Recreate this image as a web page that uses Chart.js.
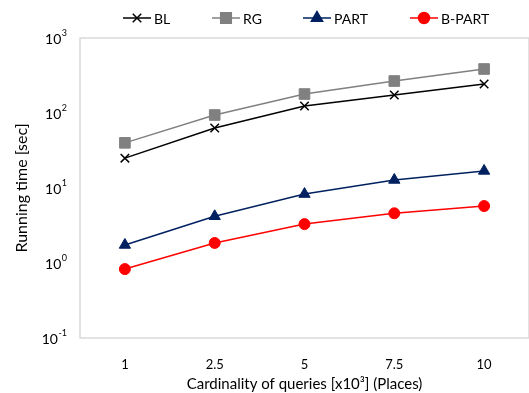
<!DOCTYPE html>
<html><head><meta charset="utf-8">
<script src="https://cdn.jsdelivr.net/npm/chart.js@4/dist/chart.umd.min.js"></script>
<style>html,body{margin:0;padding:0;background:#fff}#wrap{width:529px;height:393px}</style>
</head><body><div id="wrap"><canvas id="c" width="529" height="393"></canvas></div>
<script>
const categories = ['1', '2.5', '5', '7.5', '10'];
const seriesNames = ['BL', 'RG', 'PART', 'B-PART'];
const BL = [25, 63, 124, 174, 244];
const RG = [40, 94, 179, 267, 386];
const PART = [1.74, 4.2, 8.3, 12.8, 16.9];
const BPART = [0.83, 1.85, 3.3, 4.6, 5.75];
const yTickValues = [0.1, 1, 10, 100, 1000];
const yTickBase = '10';
const yTickExponents = ['-1', '0', '1', '2', '3'];

const FONT = 'Lato, "Open Sans", sans-serif';
const styles = [
  {color:'#000000', point:'crossRot', r:6, pw:1.5},
  {color:'#808080', point:'rect', r:7.5, pw:0},
  {color:'#002060', point:'triangle', r:6.5, pw:0},
  {color:'#ff0000', point:'circle', r:5.5, pw:0}
];
const values = [BL, RG, PART, BPART];

const datasets = values.map((v, i) => ({
  label: seriesNames[i],
  data: v,
  borderColor: styles[i].color,
  backgroundColor: styles[i].color,
  pointBackgroundColor: styles[i].color,
  pointBorderColor: styles[i].color,
  pointStyle: styles[i].point,
  pointRadius: styles[i].r,
  pointBorderWidth: styles[i].pw || 1,
  borderWidth: 1.5,
  tension: 0,
  clip: false
}));

const legendPos = [123, 212, 303, 410];
const boxPlugin = {
  id: 'boxAndLegend',
  afterDraw(chart) {
    const ctx = chart.ctx, a = chart.chartArea;
    ctx.save();
    ctx.strokeStyle = '#d9d9d9';
    ctx.lineWidth = 1.5;
    ctx.strokeRect(a.left, a.top, a.right - a.left, a.bottom - a.top);
    const ys = chart.scales.y;
    ctx.fillStyle = '#000';
    ctx.textBaseline = 'middle';
    yTickValues.forEach((v, k) => {
      const py = ys.getPixelForValue(v);
      ctx.font = '9px ' + FONT;
      const ew = ctx.measureText(yTickExponents[k]).width;
      ctx.textAlign = 'left';
      const xr = 67;
      ctx.fillText(yTickExponents[k], xr - ew, py - 5);
      ctx.font = '14px ' + FONT;
      ctx.textAlign = 'right';
      ctx.fillText(yTickBase, xr - ew - 0.5, py + 1);
    });
    const y = 18;
    ctx.font = '14px ' + FONT;
    ctx.textAlign = 'left';
    styles.forEach((s, i) => {
      const x0 = legendPos[i];
      ctx.strokeStyle = s.color;
      ctx.lineWidth = 1.5;
      ctx.beginPath(); ctx.moveTo(x0, y); ctx.lineTo(x0 + 28, y); ctx.stroke();
      ctx.fillStyle = s.color;
      Chart.helpers.drawPoint(ctx, {pointStyle: s.point, radius: s.r, borderWidth: s.pw || 1}, x0 + 14, y);
      ctx.fillStyle = '#000';
      ctx.fillText(seriesNames[i], x0 + 31, y + 1);
    });
    ctx.restore();
  }
};

new Chart(document.getElementById('c'), {
  type: 'line',
  data: { labels: categories, datasets },
  options: {
    responsive: false,
    animation: false,
    layout: { autoPadding: false, padding: { top: 38, right: -1, left: 0, bottom: 0 } },
    plugins: { legend: { display: false }, tooltip: { enabled: false } },
    scales: {
      x: {
        type: 'category',
        offset: true,
        grid: { display: false },
        border: { display: false },
        ticks: { color: '#000', font: { family: FONT, size: 13 }, padding: 11, maxRotation: 0 },
        title: { display: true, text: 'Cardinality of queries [x10³] (Places)', color: '#000', font: { family: FONT, size: 15 }, padding: { top: 2, bottom: 0 } },
        afterFit(s) { s.height = 55; s.paddingLeft = 0; s.paddingRight = 0; }
      },
      y: {
        type: 'logarithmic',
        min: 0.1, max: 1000,
        grid: { display: false },
        border: { display: false },
        afterBuildTicks(s) { s.ticks = yTickValues.map(v => ({ value: v })); },
        ticks: { display: false },
        title: { display: true, text: 'Running time [sec]', color: '#000', font: { family: FONT, size: 16 }, padding: { top: 12, bottom: 0 } },
        afterFit(s) { s.width = 80; s.paddingTop = 0; s.paddingBottom = 0; }
      }
    }
  },
  plugins: [boxPlugin]
});
</script></body></html>
